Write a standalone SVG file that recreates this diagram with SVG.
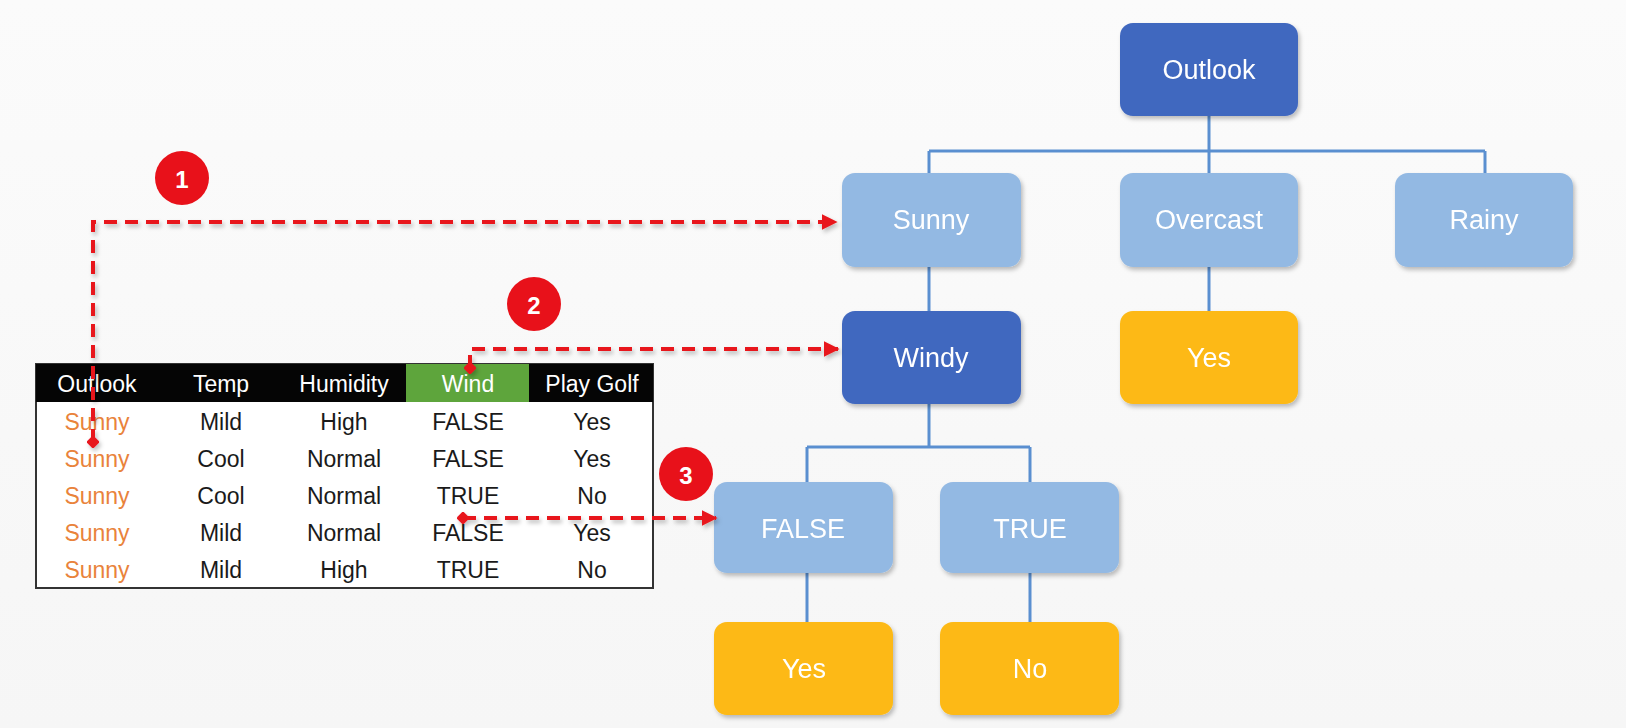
<svg xmlns="http://www.w3.org/2000/svg" width="1626" height="728" viewBox="0 0 1626 728">
<defs>
<style>
.n rect{rx:13px;ry:13px}
.dk rect{fill:#4067bf}
.lt rect{fill:#93b9e3}
.yl rect{fill:#fdb913}
.n text{font-family:"Liberation Sans",Arial,sans-serif;font-size:27px;fill:#fff;text-anchor:middle;dominant-baseline:central}
.tree{stroke:#5a8fd0;stroke-width:3;fill:none}
.red{stroke:#e8151c;stroke-width:4;stroke-dasharray:13 8;fill:none}
.th{font-family:"Liberation Sans",Arial,sans-serif;font-size:23px;fill:#fff;text-anchor:middle;dominant-baseline:central}
.td{font-family:"Liberation Sans",Arial,sans-serif;font-size:23px;fill:#1a1a1a;text-anchor:middle;dominant-baseline:central}
.or{fill:#e9833b}
.badge circle{fill:#e8111a}
.badge text{font-family:"Liberation Sans",Arial,sans-serif;font-size:24px;font-weight:bold;fill:#fff;text-anchor:middle;dominant-baseline:central}
</style>
<marker id="ah" viewBox="0 0 10 10" refX="9" refY="5" markerWidth="4" markerHeight="4" orient="auto" markerUnits="strokeWidth">
<path d="M0,0 L10,5 L0,10 z" fill="#e8151c"/>
</marker>
<marker id="dot" viewBox="0 0 10 10" refX="5" refY="5" markerWidth="3" markerHeight="3" orient="auto" markerUnits="strokeWidth">
<rect x="1" y="1" width="8" height="8" fill="#e8151c" transform="rotate(45 5 5)"/>
</marker>
<filter id="sh" x="-10%" y="-10%" width="120%" height="130%">
<feDropShadow dx="2" dy="3" stdDeviation="2" flood-color="#000" flood-opacity="0.25"/>
</filter>
<linearGradient id="bg" x1="0" y1="0" x2="0" y2="1">
<stop offset="0" stop-color="#fbfbfb"/>
<stop offset="1" stop-color="#f6f6f6"/>
</linearGradient>
</defs>
<rect width="1626" height="728" fill="url(#bg)"/>

<g id="connectors">
<path class="tree" d="M1209,116 V151 M929,151 H1485 M929,151 V173 M1209,151 V173 M1485,151 V173"/>
<path class="tree" d="M929,267 V311"/>
<path class="tree" d="M1209,267 V311"/>
<path class="tree" d="M929,404 V447 M807,447 H1030 M807,447 V482 M1030,447 V482"/>
<path class="tree" d="M807,573 V622"/>
<path class="tree" d="M1030,573 V622"/>
</g>

<g id="table">
<rect x="36" y="364" width="617" height="224" fill="#fff" stroke="#333" stroke-width="2"/>
<rect x="36" y="364" width="617" height="38" fill="#050505"/>
<rect x="406" y="364" width="123" height="38" fill="#5ea53c"/>
<text class="th" x="97" y="384">Outlook</text>
<text class="th" x="221" y="384">Temp</text>
<text class="th" x="344" y="384">Humidity</text>
<text class="th" x="468" y="384">Wind</text>
<text class="th" x="592" y="384">Play Golf</text>
<g class="td">
<text class="td or" x="97" y="422">Sunny</text><text class="td" x="221" y="422">Mild</text><text class="td" x="344" y="422">High</text><text class="td" x="468" y="422">FALSE</text><text class="td" x="592" y="422">Yes</text>
<text class="td or" x="97" y="459">Sunny</text><text class="td" x="221" y="459">Cool</text><text class="td" x="344" y="459">Normal</text><text class="td" x="468" y="459">FALSE</text><text class="td" x="592" y="459">Yes</text>
<text class="td or" x="97" y="496">Sunny</text><text class="td" x="221" y="496">Cool</text><text class="td" x="344" y="496">Normal</text><text class="td" x="468" y="496">TRUE</text><text class="td" x="592" y="496">No</text>
<text class="td or" x="97" y="533">Sunny</text><text class="td" x="221" y="533">Mild</text><text class="td" x="344" y="533">Normal</text><text class="td" x="468" y="533">FALSE</text><text class="td" x="592" y="533">Yes</text>
<text class="td or" x="97" y="570">Sunny</text><text class="td" x="221" y="570">Mild</text><text class="td" x="344" y="570">High</text><text class="td" x="468" y="570">TRUE</text><text class="td" x="592" y="570">No</text>
</g>
</g>

<g id="node-outlook" class="n dk" filter="url(#sh)"><rect x="1120" y="23" width="178" height="93"/><text x="1209" y="70">Outlook</text></g>
<g id="node-sunny" class="n lt" filter="url(#sh)"><rect x="842" y="173" width="179" height="94"/><text x="931" y="220">Sunny</text></g>
<g id="node-overcast" class="n lt" filter="url(#sh)"><rect x="1120" y="173" width="178" height="94"/><text x="1209" y="220">Overcast</text></g>
<g id="node-rainy" class="n lt" filter="url(#sh)"><rect x="1395" y="173" width="178" height="94"/><text x="1484" y="220">Rainy</text></g>
<g id="node-windy" class="n dk" filter="url(#sh)"><rect x="842" y="311" width="179" height="93"/><text x="931" y="358">Windy</text></g>
<g id="node-yes1" class="n yl" filter="url(#sh)"><rect x="1120" y="311" width="178" height="93"/><text x="1209" y="358">Yes</text></g>
<g id="node-false" class="n lt" filter="url(#sh)"><rect x="714" y="482" width="179" height="91"/><text x="803" y="529">FALSE</text></g>
<g id="node-true" class="n lt" filter="url(#sh)"><rect x="940" y="482" width="179" height="91"/><text x="1030" y="529">TRUE</text></g>
<g id="node-yes2" class="n yl" filter="url(#sh)"><rect x="714" y="622" width="179" height="93"/><text x="804" y="669">Yes</text></g>
<g id="node-no" class="n yl" filter="url(#sh)"><rect x="940" y="622" width="179" height="93"/><text x="1030" y="669">No</text></g>

<g id="red-links" filter="url(#sh)">
<path class="red" d="M93,442 V222 H836" marker-start="url(#dot)" marker-end="url(#ah)"/>
<path class="red" d="M470,368 V349 H838" marker-start="url(#dot)" marker-end="url(#ah)"/>
<path class="red" d="M463,518 H716" marker-start="url(#dot)" marker-end="url(#ah)"/>
</g>

<g id="badge-1" class="badge"><circle cx="182" cy="178" r="27"/><text x="182" y="179">1</text></g>
<g id="badge-2" class="badge"><circle cx="534" cy="304" r="27"/><text x="534" y="305">2</text></g>
<g id="badge-3" class="badge"><circle cx="686" cy="474" r="27"/><text x="686" y="475">3</text></g>
</svg>
